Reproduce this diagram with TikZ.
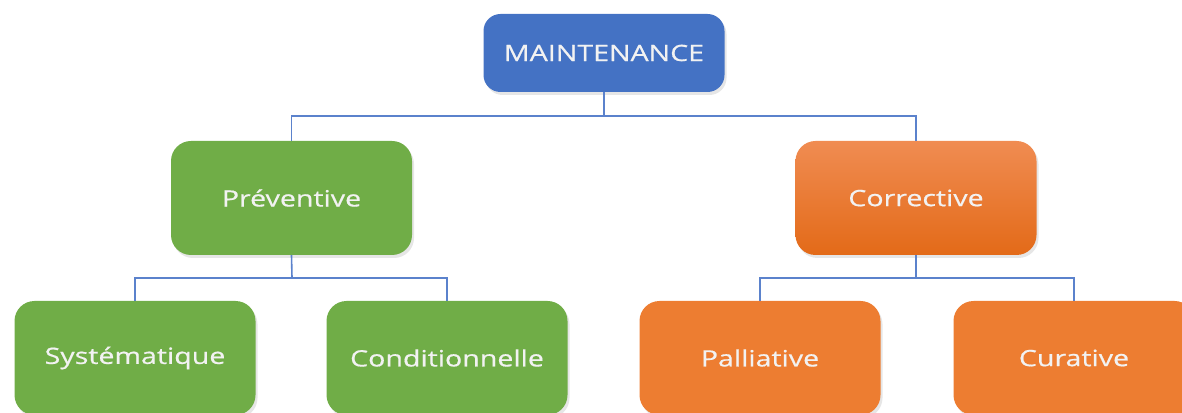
\documentclass[tikz,border=0pt]{standalone}
\usepackage{fontspec}
\newfontfamily\boxfont[FakeStretch=1.27,FakeBold=0.6]{Open Sans}
\usetikzlibrary{shadows}
\definecolor{boxblue}{HTML}{4472C4}
\definecolor{boxgreen}{HTML}{70AD47}
\definecolor{boxorange}{HTML}{ED7D31}
\definecolor{gradtop}{HTML}{F08C52}
\definecolor{gradbot}{HTML}{E36A18}
\definecolor{linkblue}{HTML}{5B82CC}
\tikzset{
  boxbase/.style={rounded corners=20pt,minimum width=241pt,minimum height=114pt,
    text=white!95!black,font=\boxfont\fontsize{22.5}{26}\selectfont,
    drop shadow={opacity=0.2,shadow xshift=2pt,shadow yshift=-3pt}},
  topbox/.style={boxbase,fill=boxblue,minimum height=78pt,rounded corners=17pt},
  greenbox/.style={boxbase,fill=boxgreen},
  orangebox/.style={boxbase,fill=boxorange},
  gradbox/.style={boxbase,top color=gradtop,bottom color=gradbot},
  link/.style={draw=linkblue,line width=1.6pt}
}
\begin{document}
\begin{tikzpicture}[x=1pt,y=1pt]
			\useasboundingbox (0,0) rectangle (1182,412);
			\clip (0,0) rectangle (1182,412);
			\node[topbox] (maint) at (604,359) {MAINTENANCE};
			\node[greenbox] (prev) at (291.5,214) {Préventive};
			\node[gradbox] (corr) at (916,214) {Corrective};
			\node[greenbox] (syst) at (135,54) {Systématique};
			\node[greenbox] (cond) at (447,54) {Conditionnelle};
			\node[orangebox] (pall) at (760,54) {Palliative};
			\node[orangebox] (cura) at (1074,54) {Curative};
			\coordinate (bartop) at (604,296);
			\coordinate (barleft) at (292,134);
			\coordinate (barright) at (916,134);
			\draw[link] (maint.south) -- (bartop) -| (prev.north);
			\draw[link] (bartop) -| (corr.north);
			\draw[link] (prev.south) -- (barleft) -| (syst.north);
			\draw[link] (barleft) -| (cond.north);
			\draw[link] (corr.south) -- (barright) -| (pall.north);
			\draw[link] (barright) -| (cura.north);
\end{tikzpicture}
\end{document}
